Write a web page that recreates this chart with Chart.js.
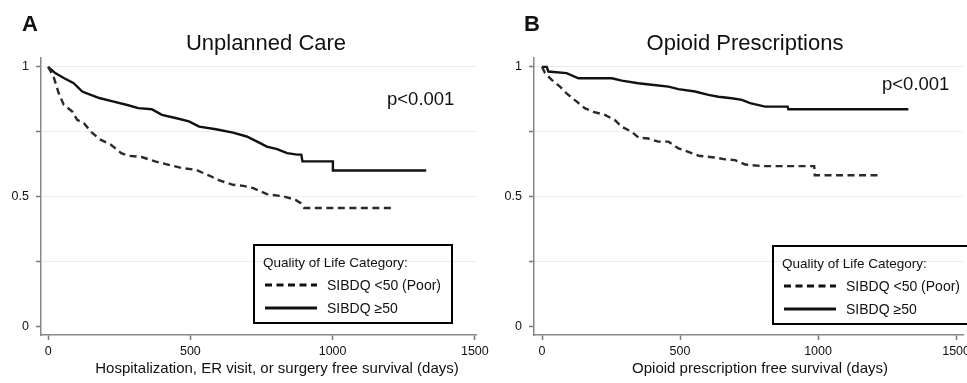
<!DOCTYPE html>
<html>
<head>
<meta charset="utf-8">
<script src="https://cdn.jsdelivr.net/npm/chart.js@4.4.0/dist/chart.umd.min.js"></script>
<style>
  html, body { margin: 0; padding: 0; background: #fff; overflow: hidden; }
  #wrap { position: relative; width: 967px; height: 383px; overflow: hidden; }
  canvas { position: absolute; top: 0; }
</style>
</head>
<body>
<div id="wrap">
  <canvas id="chartA" width="500" height="383" style="left:0"></canvas>
  <canvas id="chartB" width="520" height="383" style="left:483px"></canvas>
</div>
<script>
// Kaplan-Meier curves (day, survival); repeated days mark a visible drop
const daysA_poor = [0, 19, 37, 55, 85, 102, 126, 150, 180, 221, 257, 281, 329, 376, 424, 471, 519, 567, 602, 650, 686, 721, 769, 829, 870, 888, 900, 1210];
const survA_poor = [1, 0.963, 0.899, 0.854, 0.828, 0.796, 0.783, 0.751, 0.722, 0.700, 0.668, 0.658, 0.653, 0.636, 0.623, 0.610, 0.604, 0.581, 0.563, 0.546, 0.542, 0.533, 0.510, 0.501, 0.488, 0.475, 0.457, 0.457];
const daysA_good = [0, 25, 55, 90, 120, 150, 180, 227, 275, 317, 364, 400, 448, 495, 531, 590, 650, 698, 733, 769, 805, 840, 876, 890, 894, 1001, 1001, 1329];
const survA_good = [1, 0.976, 0.957, 0.937, 0.905, 0.892, 0.880, 0.867, 0.854, 0.841, 0.837, 0.815, 0.803, 0.790, 0.770, 0.760, 0.747, 0.732, 0.713, 0.693, 0.683, 0.668, 0.662, 0.662, 0.636, 0.636, 0.601, 0.601];

const daysB_poor = [0, 11, 35, 65, 89, 126, 156, 186, 228, 264, 289, 325, 349, 385, 421, 458, 494, 530, 567, 627, 663, 699, 736, 796, 986, 988, 1231];
const survB_poor = [1, 0.976, 0.950, 0.924, 0.898, 0.866, 0.840, 0.827, 0.815, 0.795, 0.769, 0.750, 0.728, 0.724, 0.712, 0.712, 0.686, 0.673, 0.658, 0.651, 0.644, 0.641, 0.624, 0.618, 0.618, 0.583, 0.583];
const daysB_good = [0, 17, 23, 89, 132, 253, 289, 349, 397, 458, 494, 554, 603, 639, 687, 724, 754, 808, 890, 892, 1327];
const survB_good = [1, 1, 0.982, 0.976, 0.956, 0.956, 0.947, 0.937, 0.931, 0.924, 0.914, 0.905, 0.892, 0.885, 0.879, 0.873, 0.860, 0.847, 0.847, 0.837, 0.837];

const groupNames = ['SIBDQ <50 (Poor)', 'SIBDQ \u226550'];
const xTicks = [0, 500, 1000, 1500];
const yTicks = [0, 0.25, 0.5, 0.75, 1];
const yTickLabels = ['0', '', '0.5', '', '1'];

const FONT = "'Liberation Sans', Arial, sans-serif";
const dash = [7, 4.5];

function pts(days, surv) {
  return days.map((d, i) => ({ x: d, y: surv[i] }));
}

// panel letter, title, p value, x title and the boxed legend
const panelText = {
  id: 'panelText',
  afterDraw(chart, args, o) {
    const c = chart.ctx;
    c.save();
    c.fillStyle = '#111';
    c.textBaseline = 'alphabetic';
    c.font = 'bold 22px ' + FONT;
    c.textAlign = 'left';
    c.fillText(o.letter, o.letterX, 31);
    c.font = '22px ' + FONT;
    c.textAlign = 'center';
    c.fillText(o.title, o.titleX, 50);
    c.font = '18.5px ' + FONT;
    c.textAlign = 'left';
    c.fillText('p<0.001', o.pX, o.pY);
    c.font = '15px ' + FONT;
    c.textAlign = 'center';
    c.fillText(o.xTitle, o.xTitleX, 373);

    // legend
    const lx = o.legX, ly = o.legY;
    c.lineWidth = 2;
    c.strokeStyle = '#000';
    c.setLineDash([]);
    c.strokeRect(lx, ly, o.legW, 78);
    c.textAlign = 'left';
    c.font = '13.5px ' + FONT;
    c.fillText('Quality of Life Category:', lx + 9, ly + 22);
    c.font = '14px ' + FONT;
    c.lineWidth = 3;
    c.strokeStyle = '#111';
    c.setLineDash(dash);
    c.beginPath(); c.moveTo(lx + 11, ly + 40); c.lineTo(lx + 63, ly + 40); c.stroke();
    c.setLineDash([]);
    c.beginPath(); c.moveTo(lx + 11, ly + 63); c.lineTo(lx + 63, ly + 63); c.stroke();
    c.fillText(groupNames[0], lx + 73, ly + 45);
    c.fillText(groupNames[1], lx + 73, ly + 68);
    c.restore();
  }
};

function makeChart(id, poor, good, cfg) {
  return new Chart(document.getElementById(id), {
    type: 'line',
    data: {
      datasets: [
        { label: groupNames[0], data: poor, borderColor: '#2a2a2a', borderWidth: 2.4, borderDash: dash, pointRadius: 0, fill: false, tension: 0 },
        { label: groupNames[1], data: good, borderColor: '#111', borderWidth: 2.4, pointRadius: 0, fill: false, tension: 0 }
      ]
    },
    options: {
      responsive: false,
      animation: false,
      layout: { padding: { top: 58, right: cfg.rightPad, left: 0, bottom: 0 } },
      plugins: { legend: { display: false }, tooltip: { enabled: false }, panelText: cfg.text },
      scales: {
        x: {
          type: 'linear',
          min: cfg.xMin,
          max: cfg.xMax,
          afterBuildTicks: s => { s.ticks = xTicks.map(v => ({ value: v })); },
          afterFit: s => { s.height = 48; },
          ticks: { color: '#111', font: { family: FONT, size: 12.5 }, padding: 4, maxRotation: 0, autoSkip: false,
                   callback: v => String(v) },
          grid: { drawOnChartArea: false, tickLength: 5, tickColor: '#777', tickWidth: 1.5 },
          border: { color: '#888', width: 1.5 }
        },
        y: {
          min: -0.032,
          max: 1.034,
          afterBuildTicks: s => { s.ticks = yTicks.map(v => ({ value: v })); },
          afterFit: s => { s.width = cfg.yWidth; },
          ticks: {
            color: '#111', font: { family: FONT, size: 12.5 }, padding: 7,
            callback: v => yTickLabels[yTicks.indexOf(v)]
          },
          grid: {
            color: ctx => (ctx.tick && ctx.tick.value === 0) ? 'rgba(0,0,0,0)' : '#ececec',
            tickColor: '#777', tickLength: 5, tickWidth: 1.5, lineWidth: 1
          },
          border: { color: '#888', width: 1.5 }
        }
      }
    },
    plugins: [panelText]
  });
}

makeChart('chartA', pts(daysA_poor, survA_poor), pts(daysA_good, survA_good), {
  rightPad: 24, yWidth: 41, xMin: -25, xMax: 1504,
  text: { letter: 'A', letterX: 22, title: 'Unplanned Care', titleX: 266, pX: 387, pY: 105,
          xTitle: 'Hospitalization, ER visit, or surgery free survival (days)', xTitleX: 277,
          legX: 254, legY: 245, legW: 198 }
});

makeChart('chartB', pts(daysB_poor, survB_poor), pts(daysB_good, survB_good), {
  rightPad: 40, yWidth: 51, xMin: -29, xMax: 1525,
  text: { letter: 'B', letterX: 41, title: 'Opioid Prescriptions', titleX: 262, pX: 399, pY: 90,
          xTitle: 'Opioid prescription free survival (days)', xTitleX: 277,
          legX: 290, legY: 246, legW: 220 }
});
</script>
</body>
</html>
